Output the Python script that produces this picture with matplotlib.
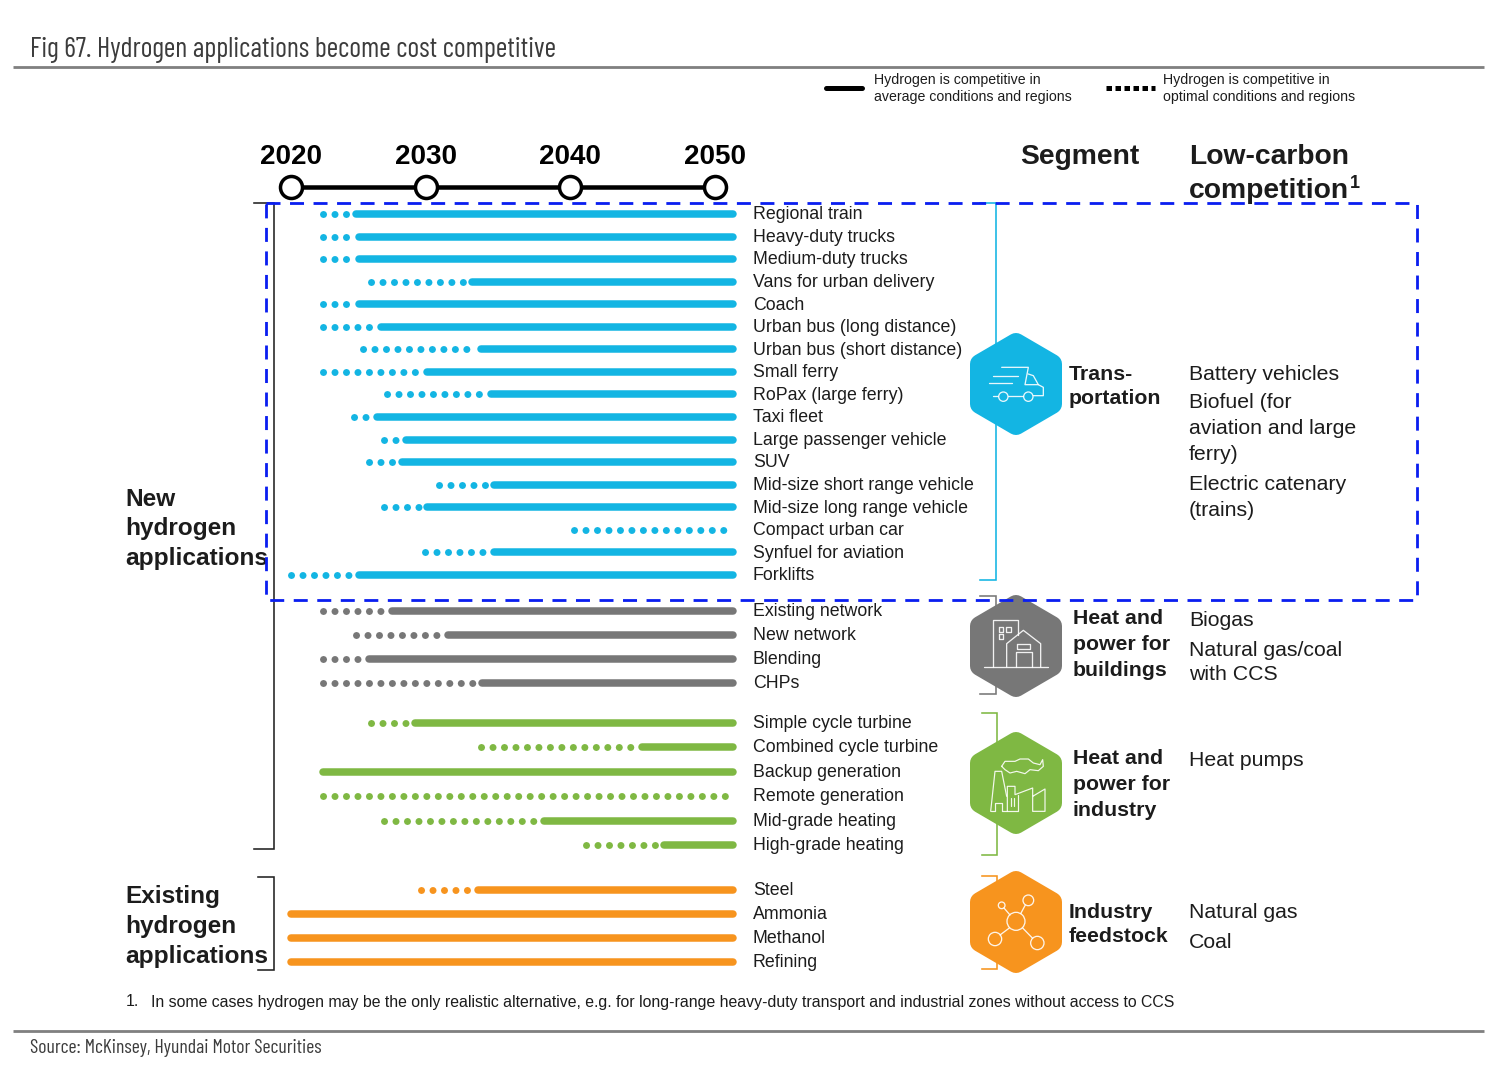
import numpy as np
import matplotlib
matplotlib.use("Agg")
import matplotlib.pyplot as plt
from matplotlib.patches import Polygon, Circle, Rectangle

plt.rcParams["font.family"] = ["Liberation Sans", "DejaVu Sans"]

#data ---
#x values are years, read off the timeline. nan = no solid part
transport_names = ["Regional train", "Heavy-duty trucks", "Medium-duty trucks", "Vans for urban delivery",
                   "Coach", "Urban bus (long distance)", "Urban bus (short distance)", "Small ferry",
                   "RoPax (large ferry)", "Taxi fleet", "Large passenger vehicle", "SUV",
                   "Mid-size short range vehicle", "Mid-size long range vehicle", "Compact urban car",
                   "Synfuel for aviation", "Forklifts"]
transport_dots = [2022.4, 2022.4, 2022.4, 2025.9, 2022.4, 2022.4, 2025.3, 2022.4, 2027.1,
                  2024.7, 2026.9, 2025.8, 2030.9, 2026.9, 2040.3, 2029.9, 2020.0]
transport_solid = [2024.8, 2025.0, 2025.0, 2033.2, 2025.0, 2026.7, 2033.8, 2030.1, 2034.5,
                   2026.4, 2028.5, 2028.2, 2034.7, 2030.1, np.nan, 2034.7, 2025.0]

building_names = ["Existing network", "New network", "Blending", "CHPs"]
building_dots = [2022.4, 2024.8, 2022.4, 2022.4]
building_solid = [2027.5, 2031.5, 2025.8, 2033.9]

industry_names = ["Simple cycle turbine", "Combined cycle turbine", "Backup generation",
                  "Remote generation", "Mid-grade heating", "High-grade heating"]
industry_dots = [2025.9, 2033.8, np.nan, 2022.4, 2026.9, 2041.1]
industry_solid = [2029.2, 2045.0, 2022.4, np.nan, 2038.2, 2046.5]

feedstock_names = ["Steel", "Ammonia", "Methanol", "Refining"]
feedstock_dots = [2029.6, np.nan, np.nan, np.nan]
feedstock_solid = [2033.6, 2020.0, 2020.0, 2020.0]

years = [2020, 2030, 2040, 2050]
bar_end = 2051.25
dots_only_end = 2050.8

blue = "#13B5E3"
gray = "#777777"
green = "#7FB843"
orange = "#F7941E"
ink = "#1c1c1c"

PX = 0.72  #one pixel in points at dpi 100


#the timeline in the source is not quite even
def year_to_px(y):
    y = np.asarray(y, dtype=float)
    return np.where(y < 2030, 291 + (y - 2020) * 13.5,
                    np.where(y < 2040, 426 + (y - 2030) * 14.4, 570 + (y - 2040) * 14.5))


def px_to_year(p):
    p = np.asarray(p, dtype=float)
    return np.where(p < 426, 2020 + (p - 291) / 13.5,
                    np.where(p < 570, 2030 + (p - 426) / 14.4, 2040 + (p - 570) / 14.5))


fig = plt.figure(figsize=(15.12, 10.72), dpi=100)

#pixel axes for the frame, text and icons
deco = fig.add_axes([0, 0, 1, 1], zorder=1)
deco.set_xlim(0, 1512)
deco.set_ylim(1072, 0)
deco.axis("off")

#year axes for the bars
ax = fig.add_axes([0, 0, 1, 1], zorder=2)
ax.patch.set_alpha(0)
ax.set_xscale("function", functions=(year_to_px, px_to_year))
ax.set_xlim(float(px_to_year(0)), float(px_to_year(1512)))
ax.set_ylim(1072, 0)
ax.axis("off")

#top layer, dashed box goes over everything
top = fig.add_axes([0, 0, 1, 1], zorder=3)
top.patch.set_alpha(0)
top.set_xlim(0, 1512)
top.set_ylim(1072, 0)
top.axis("off")


def draw_group(names, dots, solid, color, first_y, step):
    for i, name in enumerate(names):
        y = first_y + i * step
        if not np.isnan(solid[i]):
            ax.plot([solid[i], bar_end], [y, y], color=color, lw=7.5 * PX, solid_capstyle="round")
        if not np.isnan(dots[i]):
            stop = solid[i] - 0.5 if not np.isnan(solid[i]) else dots_only_end
            ax.plot([dots[i], stop], [y, y], color=color, lw=7 * PX,
                    dash_capstyle="round", dashes=(0.01, 1.63))
        deco.text(753, y + 0.8, name, fontsize=12.75, color=ink, va="center", ha="left")


draw_group(transport_names, transport_dots, transport_solid, blue, 214, 22.56)
draw_group(building_names, building_dots, building_solid, gray, 611, 24)
draw_group(industry_names, industry_dots, industry_solid, green, 722.5, 24.5)
draw_group(feedstock_names, feedstock_dots, feedstock_solid, orange, 890, 24)

#timeline
ax.plot(years, [186.5] * 4, color="black", lw=4.5 * PX, marker="o", ms=22 * PX,
        mfc="white", mec="black", mew=3.5 * PX)
for yr in years:
    ax.text(yr, 157, str(yr), fontsize=20, fontweight="bold", color="black", ha="center", va="center")

#title, source, rules
narrow = ["Barlow Condensed", "Liberation Sans"]
deco.text(30, 50, "Fig 67. Hydrogen applications become cost competitive", family=narrow,
          fontsize=20.2, color="#3c3c3c", va="center")
deco.text(30, 1048, "Source: McKinsey, Hyundai Motor Securities", family=narrow,
          fontsize=14.2, color="#3c3c3c", va="center")
deco.plot([13, 1484], [67, 67], color="#808080", lw=2.8 * PX, solid_capstyle="butt")
deco.plot([13, 1484], [1031, 1031], color="#808080", lw=2.8 * PX, solid_capstyle="butt")

#legend
deco.plot([826, 862], [88, 88], color="black", lw=5 * PX, solid_capstyle="round")
deco.plot([1106, 1155], [88, 88], color="black", lw=5 * PX, dashes=(1.1, 0.7), dash_capstyle="butt")
deco.text(874, 80, "Hydrogen is competitive in", fontsize=10.2, color=ink, va="center")
deco.text(874, 97, "average conditions and regions", fontsize=10.2, color=ink, va="center")
deco.text(1163, 80, "Hydrogen is competitive in", fontsize=10.2, color=ink, va="center")
deco.text(1163, 97, "optimal conditions and regions", fontsize=10.2, color=ink, va="center")

#headers
deco.text(1020, 157, "Segment", fontsize=20.3, fontweight="bold", color=ink, va="center")
deco.text(1189, 157, "Low-carbon", fontsize=20.3, fontweight="bold", color=ink, va="center")
deco.text(1189, 191, "competition", fontsize=20.3, fontweight="bold", color=ink, va="center")
deco.text(1350, 184, "1", fontsize=13, fontweight="bold", color=ink, va="center")

#left labels
for txt, y in [("New", 500), ("hydrogen", 529), ("applications", 559),
               ("Existing", 896), ("hydrogen", 927), ("applications", 956)]:
    deco.text(125.5, y, txt, fontsize=17.6, fontweight="bold", color=ink, va="center")

#brackets
bracket_kw = dict(lw=1.6 * PX, solid_joinstyle="miter")
deco.plot([254, 274, 274, 254], [203, 203, 849, 849], color="#222222", **bracket_kw)
deco.plot([258, 274, 274, 258], [877, 877, 970, 970], color="#222222", **bracket_kw)
deco.plot([980, 996, 996, 980], [203, 203, 580, 580], color=blue, **bracket_kw)
deco.plot([980, 996, 996, 980], [596, 596, 694, 694], color=gray, **bracket_kw)
deco.plot([982, 997, 997, 982], [713, 713, 855, 855], color=green, **bracket_kw)
deco.plot([982, 997, 997, 982], [876, 876, 969, 969], color=orange, **bracket_kw)


#hexagons ---
def hexagon(cx, cy, color):
    pts = [(cx, cy - 41), (cx + 36, cy - 20), (cx + 36, cy + 20),
           (cx, cy + 41), (cx - 36, cy + 20), (cx - 36, cy - 20)]
    deco.add_patch(Polygon(pts, closed=True, fc=color, ec=color, lw=20 * PX, joinstyle="round", zorder=5))


def icon_lines(cx, cy, ox, oy, paths, lw=1.3):
    for path in paths:
        xs = [cx + (p[0] - ox) / 3 for p in path]
        ys = [cy + (p[1] - oy) / 3 for p in path]
        deco.plot(xs, ys, color="white", lw=lw * PX, alpha=0.9, zorder=6,
                  solid_capstyle="round", solid_joinstyle="round")


def icon_circles(cx, cy, ox, oy, circles, lw=1.3):
    for x, y, r in circles:
        deco.add_patch(Circle((cx + (x - ox) / 3, cy + (y - oy) / 3), r / 3, fc="none", ec="white",
                              lw=lw * PX, alpha=0.9, zorder=6))


hexagon(1016, 384, blue)
icon_lines(1016, 384, 198, 190, [
    [(155, 140), (235, 140), (225, 192), (265, 192), (250, 165), (235, 160)],
    [(130, 165), (205, 165)],
    [(118, 188), (185, 188)],
    [(265, 192), (280, 200), (280, 225), (250, 225)],
    [(130, 225), (145, 225)],
    [(175, 225), (220, 225)],
])
icon_circles(1016, 384, 198, 190, [(160, 228, 14), (235, 228, 14)])

hexagon(1016, 646, gray)
icon_lines(1016, 646, 198, 977, [
    [(102, 1040), (295, 1040)],
    [(128, 1040), (128, 900), (203, 900), (203, 945)],
    [(170, 1040), (170, 970), (220, 930), (272, 970), (272, 1040)],
    [(197, 1040), (197, 995), (245, 995), (245, 1040)],
    [(200, 972), (240, 972), (240, 986), (200, 986), (200, 972)],
    [(146, 920), (160, 920), (160, 934), (146, 934), (146, 920)],
    [(168, 920), (182, 920), (182, 934), (168, 934), (168, 920)],
    [(146, 942), (158, 942), (158, 956), (146, 956), (146, 942)],
])

hexagon(1016, 783, green)
icon_lines(1016, 783, 198, 250, [
    [(155, 200), (165, 185), (195, 185), (210, 178), (235, 178), (250, 190), (270, 195), (278, 180),
     (280, 200), (265, 213), (240, 210), (225, 222), (200, 215), (180, 220), (165, 210), (155, 200)],
    [(122, 335), (135, 215), (155, 215), (170, 290)],
    [(122, 335), (135, 335), (135, 310), (155, 310), (155, 335), (205, 335), (205, 285)],
    [(172, 335), (172, 260), (195, 260), (195, 285), (248, 265), (248, 335), (285, 335), (285, 268), (248, 290)],
    [(182, 295), (182, 320)],
    [(192, 295), (192, 320)],
], lw=1.2)

hexagon(1016, 922, orange)
icon_lines(1016, 922, 198, 667, [
    [(212, 642), (226, 616)],
    [(180, 646), (162, 625)],
    [(178, 685), (150, 706)],
    [(218, 685), (248, 716)],
])
icon_circles(1016, 922, 198, 667, [(198, 665, 27), (235, 602, 16), (155, 617, 10), (135, 718, 20), (262, 730, 20)])

#segment names
for txt, x, y in [("Trans-", 1069, 374), ("portation", 1069, 398),
                  ("Heat and", 1073, 619), ("power for", 1073, 645), ("buildings", 1073, 670),
                  ("Heat and", 1073, 759), ("power for", 1073, 785), ("industry", 1073, 811),
                  ("Industry", 1069, 912), ("feedstock", 1069, 936)]:
    deco.text(x, y, txt, fontsize=15.3, fontweight="bold", color=ink, va="center")

#low-carbon competition
for txt, y in [("Battery vehicles", 374), ("Biofuel (for", 403), ("aviation and large", 429), ("ferry)", 454),
               ("Electric catenary", 485), ("(trains)", 511),
               ("Biogas", 620), ("Natural gas/coal", 650), ("with CCS", 675),
               ("Heat pumps", 760),
               ("Natural gas", 912), ("Coal", 942)]:
    deco.text(1189, y, txt, fontsize=15.3, color=ink, va="center")

#footnote
deco.text(126, 1002, "1.", fontsize=11.43, color=ink, va="center")
deco.text(151, 1002, "In some cases hydrogen may be the only realistic alternative, e.g. for long-range "
          "heavy-duty transport and industrial zones without access to CCS", fontsize=11.43, color=ink, va="center")

#blue dashed box
top.add_patch(Rectangle((266, 203), 1151, 397, fc="none", ec="#0A1EF0", lw=2.8 * PX,
                        linestyle=(0, (5, 3.4))))

fig.savefig("out.png", dpi=100)
